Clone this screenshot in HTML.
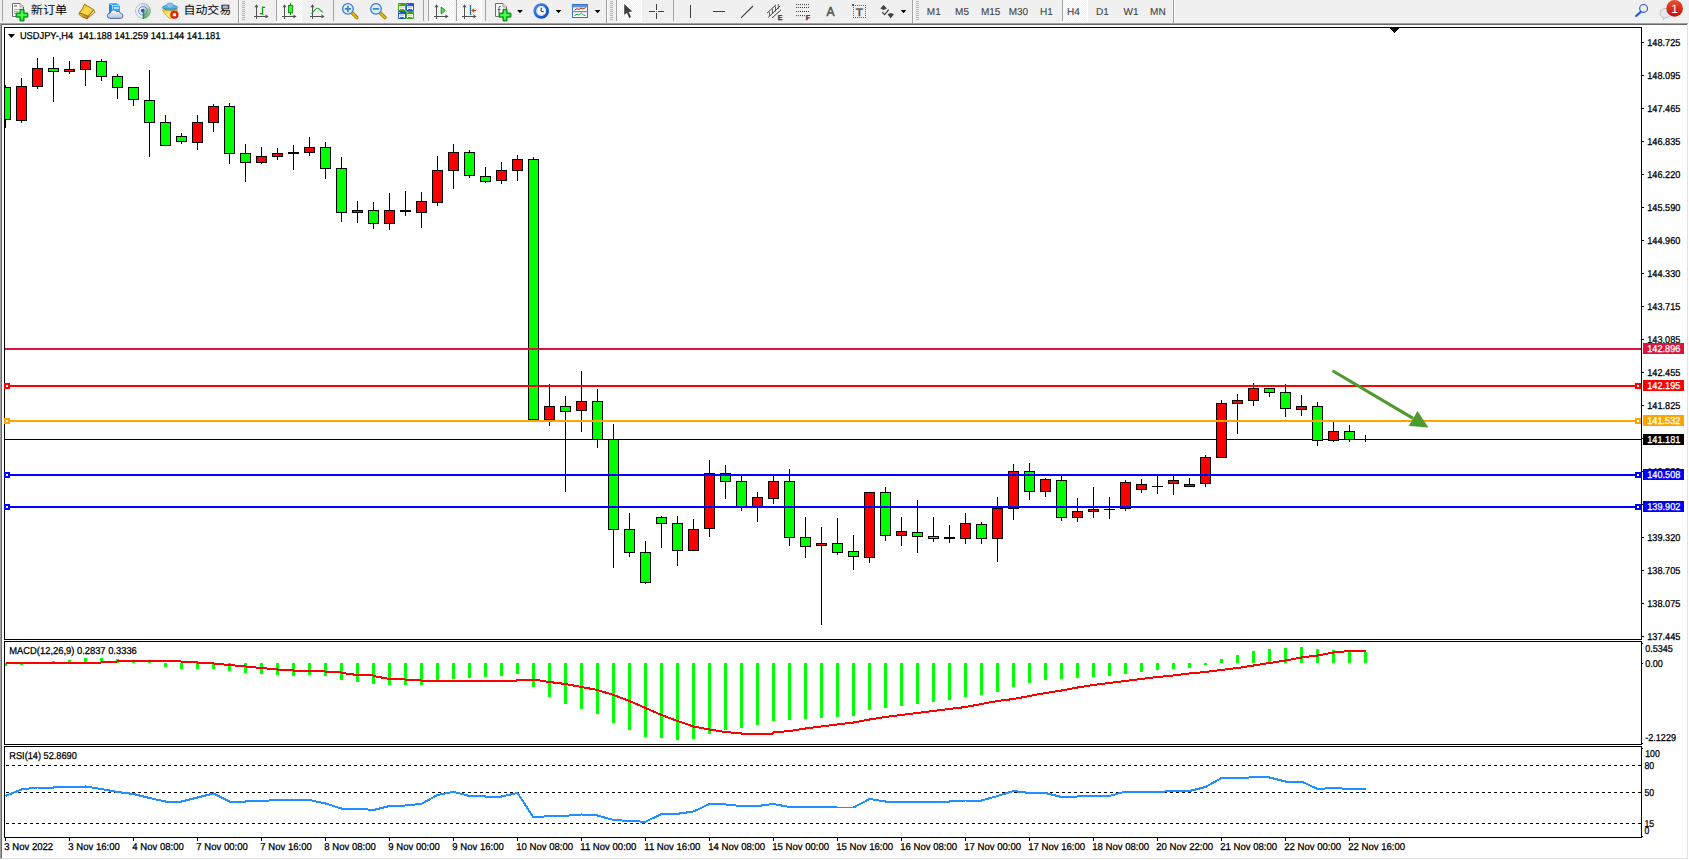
<!DOCTYPE html>
<html lang="zh"><head><meta charset="utf-8"><title>USDJPY H4</title>
<style>html,body{margin:0;padding:0;background:#fff;overflow:hidden}svg{display:block}text{font-family:"Liberation Sans","Noto Sans CJK SC",sans-serif;text-rendering:geometricPrecision}</style>
</head><body>
<svg width="1689" height="860" viewBox="0 0 1689 860">
<defs><pattern id="chk" width="2" height="2" patternUnits="userSpaceOnUse"><rect width="2" height="2" fill="#f0f0f0"/><rect width="1" height="1" fill="#fff"/><rect x="1" y="1" width="1" height="1" fill="#fff"/></pattern></defs>
<rect x="0" y="0" width="1689" height="860" fill="#fff"/>
<rect x="0" y="0" width="1689" height="23" fill="#f0f0f0"/>
<g shape-rendering="crispEdges">
<rect x="0" y="23" width="1688" height="1" fill="#a0a0a0"/>
<rect x="0" y="23" width="1" height="836" fill="#a0a0a0"/>
<rect x="1" y="24" width="1686" height="1" fill="#696969"/>
<rect x="1" y="24" width="1" height="834" fill="#696969"/>
<rect x="1687" y="24" width="1" height="835" fill="#e3e3e3"/>
<rect x="1" y="858" width="1687" height="1" fill="#e3e3e3"/>
<rect x="4" y="27" width="1638" height="1" fill="#000"/>
<rect x="4" y="27" width="1" height="613" fill="#000"/>
<rect x="4" y="641" width="1" height="104" fill="#000"/>
<rect x="4" y="746" width="1" height="92" fill="#000"/>
<rect x="1641" y="27" width="1" height="613" fill="#000"/>
<rect x="1641" y="641" width="1" height="104" fill="#000"/>
<rect x="1641" y="746" width="1" height="92" fill="#000"/>
<rect x="4" y="639" width="1638" height="1" fill="#000"/>
<rect x="4" y="641" width="1638" height="1" fill="#000"/>
<rect x="4" y="744" width="1638" height="1" fill="#000"/>
<rect x="4" y="746" width="1638" height="1" fill="#000"/>
<rect x="4" y="837" width="1638" height="1" fill="#000"/>
</g>
<g shape-rendering="crispEdges">
<clipPath id="cm"><rect x="5" y="28" width="1636" height="611"/></clipPath>
<rect x="5" y="439" width="1637" height="1" fill="#000"/>
<g clip-path="url(#cm)">
<rect x="5" y="85" width="1" height="43" fill="#000"/>
<rect x="0" y="87" width="11" height="33" fill="#000"/>
<rect x="1" y="88" width="9" height="31" fill="#00ff00"/>
<rect x="21" y="78" width="1" height="45" fill="#000"/>
<rect x="16" y="86" width="11" height="35" fill="#000"/>
<rect x="17" y="87" width="9" height="33" fill="#ff0000"/>
<rect x="37" y="58" width="1" height="31" fill="#000"/>
<rect x="32" y="68" width="11" height="19" fill="#000"/>
<rect x="33" y="69" width="9" height="17" fill="#ff0000"/>
<rect x="53" y="57" width="1" height="45" fill="#000"/>
<rect x="48" y="68" width="11" height="4" fill="#000"/>
<rect x="49" y="69" width="9" height="2" fill="#00ff00"/>
<rect x="69" y="61" width="1" height="13" fill="#000"/>
<rect x="64" y="69" width="11" height="3" fill="#000"/>
<rect x="65" y="70" width="9" height="1" fill="#ff0000"/>
<rect x="85" y="60" width="1" height="26" fill="#000"/>
<rect x="80" y="60" width="11" height="10" fill="#000"/>
<rect x="81" y="61" width="9" height="8" fill="#ff0000"/>
<rect x="101" y="59" width="1" height="22" fill="#000"/>
<rect x="96" y="61" width="11" height="16" fill="#000"/>
<rect x="97" y="62" width="9" height="14" fill="#00ff00"/>
<rect x="117" y="74" width="1" height="25" fill="#000"/>
<rect x="112" y="76" width="11" height="12" fill="#000"/>
<rect x="113" y="77" width="9" height="10" fill="#00ff00"/>
<rect x="133" y="87" width="1" height="19" fill="#000"/>
<rect x="128" y="87" width="11" height="13" fill="#000"/>
<rect x="129" y="88" width="9" height="11" fill="#00ff00"/>
<rect x="149" y="70" width="1" height="87" fill="#000"/>
<rect x="144" y="100" width="11" height="23" fill="#000"/>
<rect x="145" y="101" width="9" height="21" fill="#00ff00"/>
<rect x="165" y="115" width="1" height="31" fill="#000"/>
<rect x="160" y="122" width="11" height="24" fill="#000"/>
<rect x="161" y="123" width="9" height="22" fill="#00ff00"/>
<rect x="181" y="133" width="1" height="11" fill="#000"/>
<rect x="176" y="136" width="11" height="6" fill="#000"/>
<rect x="177" y="137" width="9" height="4" fill="#00ff00"/>
<rect x="197" y="115" width="1" height="35" fill="#000"/>
<rect x="192" y="122" width="11" height="21" fill="#000"/>
<rect x="193" y="123" width="9" height="19" fill="#ff0000"/>
<rect x="213" y="104" width="1" height="28" fill="#000"/>
<rect x="208" y="106" width="11" height="17" fill="#000"/>
<rect x="209" y="107" width="9" height="15" fill="#ff0000"/>
<rect x="229" y="103" width="1" height="61" fill="#000"/>
<rect x="224" y="106" width="11" height="48" fill="#000"/>
<rect x="225" y="107" width="9" height="46" fill="#00ff00"/>
<rect x="245" y="144" width="1" height="38" fill="#000"/>
<rect x="240" y="153" width="11" height="10" fill="#000"/>
<rect x="241" y="154" width="9" height="8" fill="#00ff00"/>
<rect x="261" y="147" width="1" height="17" fill="#000"/>
<rect x="256" y="156" width="11" height="7" fill="#000"/>
<rect x="257" y="157" width="9" height="5" fill="#ff0000"/>
<rect x="277" y="148" width="1" height="12" fill="#000"/>
<rect x="272" y="153" width="11" height="4" fill="#000"/>
<rect x="273" y="154" width="9" height="2" fill="#ff0000"/>
<rect x="293" y="145" width="1" height="25" fill="#000"/>
<rect x="288" y="152" width="11" height="2" fill="#000"/>
<rect x="309" y="137" width="1" height="19" fill="#000"/>
<rect x="304" y="147" width="11" height="6" fill="#000"/>
<rect x="305" y="148" width="9" height="4" fill="#ff0000"/>
<rect x="325" y="142" width="1" height="37" fill="#000"/>
<rect x="320" y="147" width="11" height="22" fill="#000"/>
<rect x="321" y="148" width="9" height="20" fill="#00ff00"/>
<rect x="341" y="157" width="1" height="65" fill="#000"/>
<rect x="336" y="168" width="11" height="45" fill="#000"/>
<rect x="337" y="169" width="9" height="43" fill="#00ff00"/>
<rect x="357" y="201" width="1" height="22" fill="#000"/>
<rect x="352" y="210" width="11" height="3" fill="#000"/>
<rect x="353" y="211" width="9" height="1" fill="#ff0000"/>
<rect x="373" y="202" width="1" height="27" fill="#000"/>
<rect x="368" y="210" width="11" height="14" fill="#000"/>
<rect x="369" y="211" width="9" height="12" fill="#00ff00"/>
<rect x="389" y="193" width="1" height="37" fill="#000"/>
<rect x="384" y="210" width="11" height="14" fill="#000"/>
<rect x="385" y="211" width="9" height="12" fill="#ff0000"/>
<rect x="405" y="191" width="1" height="25" fill="#000"/>
<rect x="400" y="210" width="11" height="2" fill="#000"/>
<rect x="421" y="192" width="1" height="36" fill="#000"/>
<rect x="416" y="201" width="11" height="12" fill="#000"/>
<rect x="417" y="202" width="9" height="10" fill="#ff0000"/>
<rect x="437" y="156" width="1" height="50" fill="#000"/>
<rect x="432" y="170" width="11" height="33" fill="#000"/>
<rect x="433" y="171" width="9" height="31" fill="#ff0000"/>
<rect x="453" y="144" width="1" height="45" fill="#000"/>
<rect x="448" y="152" width="11" height="19" fill="#000"/>
<rect x="449" y="153" width="9" height="17" fill="#ff0000"/>
<rect x="469" y="150" width="1" height="28" fill="#000"/>
<rect x="464" y="152" width="11" height="24" fill="#000"/>
<rect x="465" y="153" width="9" height="22" fill="#00ff00"/>
<rect x="485" y="167" width="1" height="16" fill="#000"/>
<rect x="480" y="176" width="11" height="6" fill="#000"/>
<rect x="481" y="177" width="9" height="4" fill="#00ff00"/>
<rect x="501" y="162" width="1" height="22" fill="#000"/>
<rect x="496" y="170" width="11" height="11" fill="#000"/>
<rect x="497" y="171" width="9" height="9" fill="#ff0000"/>
<rect x="517" y="155" width="1" height="26" fill="#000"/>
<rect x="512" y="159" width="11" height="12" fill="#000"/>
<rect x="513" y="160" width="9" height="10" fill="#ff0000"/>
<rect x="533" y="157" width="1" height="263" fill="#000"/>
<rect x="528" y="159" width="11" height="261" fill="#000"/>
<rect x="529" y="160" width="9" height="259" fill="#00ff00"/>
<rect x="549" y="384" width="1" height="42" fill="#000"/>
<rect x="544" y="406" width="11" height="14" fill="#000"/>
<rect x="545" y="407" width="9" height="12" fill="#ff0000"/>
<rect x="565" y="396" width="1" height="96" fill="#000"/>
<rect x="560" y="406" width="11" height="6" fill="#000"/>
<rect x="561" y="407" width="9" height="4" fill="#00ff00"/>
<rect x="581" y="371" width="1" height="61" fill="#000"/>
<rect x="576" y="401" width="11" height="10" fill="#000"/>
<rect x="577" y="402" width="9" height="8" fill="#ff0000"/>
<rect x="597" y="389" width="1" height="59" fill="#000"/>
<rect x="592" y="401" width="11" height="39" fill="#000"/>
<rect x="593" y="402" width="9" height="37" fill="#00ff00"/>
<rect x="613" y="424" width="1" height="144" fill="#000"/>
<rect x="608" y="439" width="11" height="91" fill="#000"/>
<rect x="609" y="440" width="9" height="89" fill="#00ff00"/>
<rect x="629" y="513" width="1" height="44" fill="#000"/>
<rect x="624" y="529" width="11" height="24" fill="#000"/>
<rect x="625" y="530" width="9" height="22" fill="#00ff00"/>
<rect x="645" y="541" width="1" height="43" fill="#000"/>
<rect x="640" y="552" width="11" height="31" fill="#000"/>
<rect x="641" y="553" width="9" height="29" fill="#00ff00"/>
<rect x="661" y="516" width="1" height="32" fill="#000"/>
<rect x="656" y="517" width="11" height="7" fill="#000"/>
<rect x="657" y="518" width="9" height="5" fill="#00ff00"/>
<rect x="677" y="516" width="1" height="50" fill="#000"/>
<rect x="672" y="523" width="11" height="28" fill="#000"/>
<rect x="673" y="524" width="9" height="26" fill="#00ff00"/>
<rect x="693" y="519" width="1" height="32" fill="#000"/>
<rect x="688" y="529" width="11" height="22" fill="#000"/>
<rect x="689" y="530" width="9" height="20" fill="#ff0000"/>
<rect x="709" y="460" width="1" height="77" fill="#000"/>
<rect x="704" y="473" width="11" height="56" fill="#000"/>
<rect x="705" y="474" width="9" height="54" fill="#ff0000"/>
<rect x="725" y="465" width="1" height="34" fill="#000"/>
<rect x="720" y="473" width="11" height="9" fill="#000"/>
<rect x="721" y="474" width="9" height="7" fill="#00ff00"/>
<rect x="741" y="474" width="1" height="37" fill="#000"/>
<rect x="736" y="481" width="11" height="27" fill="#000"/>
<rect x="737" y="482" width="9" height="25" fill="#00ff00"/>
<rect x="757" y="492" width="1" height="30" fill="#000"/>
<rect x="752" y="497" width="11" height="11" fill="#000"/>
<rect x="753" y="498" width="9" height="9" fill="#ff0000"/>
<rect x="773" y="474" width="1" height="30" fill="#000"/>
<rect x="768" y="481" width="11" height="18" fill="#000"/>
<rect x="769" y="482" width="9" height="16" fill="#ff0000"/>
<rect x="789" y="469" width="1" height="77" fill="#000"/>
<rect x="784" y="481" width="11" height="57" fill="#000"/>
<rect x="785" y="482" width="9" height="55" fill="#00ff00"/>
<rect x="805" y="517" width="1" height="41" fill="#000"/>
<rect x="800" y="537" width="11" height="10" fill="#000"/>
<rect x="801" y="538" width="9" height="8" fill="#00ff00"/>
<rect x="821" y="527" width="1" height="98" fill="#000"/>
<rect x="816" y="543" width="11" height="3" fill="#000"/>
<rect x="817" y="544" width="9" height="1" fill="#ff0000"/>
<rect x="837" y="518" width="1" height="37" fill="#000"/>
<rect x="832" y="543" width="11" height="10" fill="#000"/>
<rect x="833" y="544" width="9" height="8" fill="#00ff00"/>
<rect x="853" y="535" width="1" height="35" fill="#000"/>
<rect x="848" y="551" width="11" height="6" fill="#000"/>
<rect x="849" y="552" width="9" height="4" fill="#00ff00"/>
<rect x="869" y="492" width="1" height="71" fill="#000"/>
<rect x="864" y="492" width="11" height="66" fill="#000"/>
<rect x="865" y="493" width="9" height="64" fill="#ff0000"/>
<rect x="885" y="487" width="1" height="54" fill="#000"/>
<rect x="880" y="492" width="11" height="44" fill="#000"/>
<rect x="881" y="493" width="9" height="42" fill="#00ff00"/>
<rect x="901" y="517" width="1" height="29" fill="#000"/>
<rect x="896" y="531" width="11" height="5" fill="#000"/>
<rect x="897" y="532" width="9" height="3" fill="#ff0000"/>
<rect x="917" y="500" width="1" height="53" fill="#000"/>
<rect x="912" y="532" width="11" height="5" fill="#000"/>
<rect x="913" y="533" width="9" height="3" fill="#00ff00"/>
<rect x="933" y="517" width="1" height="25" fill="#000"/>
<rect x="928" y="536" width="11" height="3" fill="#000"/>
<rect x="929" y="537" width="9" height="1" fill="#00ff00"/>
<rect x="949" y="525" width="1" height="18" fill="#000"/>
<rect x="944" y="537" width="11" height="2" fill="#000"/>
<rect x="965" y="513" width="1" height="31" fill="#000"/>
<rect x="960" y="523" width="11" height="16" fill="#000"/>
<rect x="961" y="524" width="9" height="14" fill="#ff0000"/>
<rect x="981" y="522" width="1" height="22" fill="#000"/>
<rect x="976" y="524" width="11" height="15" fill="#000"/>
<rect x="977" y="525" width="9" height="13" fill="#00ff00"/>
<rect x="997" y="497" width="1" height="65" fill="#000"/>
<rect x="992" y="508" width="11" height="31" fill="#000"/>
<rect x="993" y="509" width="9" height="29" fill="#ff0000"/>
<rect x="1013" y="464" width="1" height="56" fill="#000"/>
<rect x="1008" y="471" width="11" height="38" fill="#000"/>
<rect x="1009" y="472" width="9" height="36" fill="#ff0000"/>
<rect x="1029" y="463" width="1" height="37" fill="#000"/>
<rect x="1024" y="471" width="11" height="21" fill="#000"/>
<rect x="1025" y="472" width="9" height="19" fill="#00ff00"/>
<rect x="1045" y="478" width="1" height="19" fill="#000"/>
<rect x="1040" y="479" width="11" height="13" fill="#000"/>
<rect x="1041" y="480" width="9" height="11" fill="#ff0000"/>
<rect x="1061" y="474" width="1" height="47" fill="#000"/>
<rect x="1056" y="480" width="11" height="38" fill="#000"/>
<rect x="1057" y="481" width="9" height="36" fill="#00ff00"/>
<rect x="1077" y="498" width="1" height="24" fill="#000"/>
<rect x="1072" y="511" width="11" height="7" fill="#000"/>
<rect x="1073" y="512" width="9" height="5" fill="#ff0000"/>
<rect x="1093" y="487" width="1" height="31" fill="#000"/>
<rect x="1088" y="509" width="11" height="3" fill="#000"/>
<rect x="1089" y="510" width="9" height="1" fill="#ff0000"/>
<rect x="1109" y="497" width="1" height="22" fill="#000"/>
<rect x="1104" y="509" width="11" height="1" fill="#000"/>
<rect x="1125" y="480" width="1" height="31" fill="#000"/>
<rect x="1120" y="482" width="11" height="27" fill="#000"/>
<rect x="1121" y="483" width="9" height="25" fill="#ff0000"/>
<rect x="1141" y="479" width="1" height="14" fill="#000"/>
<rect x="1136" y="484" width="11" height="6" fill="#000"/>
<rect x="1137" y="485" width="9" height="4" fill="#ff0000"/>
<rect x="1157" y="474" width="1" height="20" fill="#000"/>
<rect x="1152" y="486" width="11" height="1" fill="#000"/>
<rect x="1173" y="474" width="1" height="21" fill="#000"/>
<rect x="1168" y="480" width="11" height="4" fill="#000"/>
<rect x="1169" y="481" width="9" height="2" fill="#ff0000"/>
<rect x="1189" y="478" width="1" height="9" fill="#000"/>
<rect x="1184" y="484" width="11" height="3" fill="#000"/>
<rect x="1185" y="485" width="9" height="1" fill="#ff0000"/>
<rect x="1205" y="455" width="1" height="32" fill="#000"/>
<rect x="1200" y="457" width="11" height="27" fill="#000"/>
<rect x="1201" y="458" width="9" height="25" fill="#ff0000"/>
<rect x="1221" y="400" width="1" height="58" fill="#000"/>
<rect x="1216" y="403" width="11" height="55" fill="#000"/>
<rect x="1217" y="404" width="9" height="53" fill="#ff0000"/>
<rect x="1237" y="394" width="1" height="40" fill="#000"/>
<rect x="1232" y="400" width="11" height="4" fill="#000"/>
<rect x="1233" y="401" width="9" height="2" fill="#ff0000"/>
<rect x="1253" y="383" width="1" height="23" fill="#000"/>
<rect x="1248" y="388" width="11" height="13" fill="#000"/>
<rect x="1249" y="389" width="9" height="11" fill="#ff0000"/>
<rect x="1269" y="388" width="1" height="9" fill="#000"/>
<rect x="1264" y="388" width="11" height="5" fill="#000"/>
<rect x="1265" y="389" width="9" height="3" fill="#00ff00"/>
<rect x="1285" y="384" width="1" height="33" fill="#000"/>
<rect x="1280" y="392" width="11" height="17" fill="#000"/>
<rect x="1281" y="393" width="9" height="15" fill="#00ff00"/>
<rect x="1301" y="395" width="1" height="21" fill="#000"/>
<rect x="1296" y="406" width="11" height="4" fill="#000"/>
<rect x="1297" y="407" width="9" height="2" fill="#ff0000"/>
<rect x="1317" y="402" width="1" height="44" fill="#000"/>
<rect x="1312" y="406" width="11" height="35" fill="#000"/>
<rect x="1313" y="407" width="9" height="33" fill="#00ff00"/>
<rect x="1333" y="422" width="1" height="20" fill="#000"/>
<rect x="1328" y="431" width="11" height="10" fill="#000"/>
<rect x="1329" y="432" width="9" height="8" fill="#ff0000"/>
<rect x="1349" y="425" width="1" height="17" fill="#000"/>
<rect x="1344" y="431" width="11" height="9" fill="#000"/>
<rect x="1345" y="432" width="9" height="7" fill="#00ff00"/>
<rect x="1365" y="435" width="1" height="7" fill="#000"/>
<rect x="1360" y="439" width="11" height="1" fill="#000"/>
</g>
<rect x="5" y="348" width="1636" height="2" fill="#dc143c"/>
<rect x="5" y="385" width="1636" height="2" fill="#ff0000"/>
<rect x="4" y="383" width="6" height="6" fill="#ff0000"/>
<rect x="6" y="385" width="2" height="2" fill="#fff"/>
<rect x="1635" y="383" width="6" height="6" fill="#ff0000"/>
<rect x="1637" y="385" width="2" height="2" fill="#fff"/>
<rect x="5" y="420" width="1636" height="2" fill="#ffa500"/>
<rect x="4" y="418" width="6" height="6" fill="#ffa500"/>
<rect x="6" y="420" width="2" height="2" fill="#fff"/>
<rect x="1635" y="418" width="6" height="6" fill="#ffa500"/>
<rect x="1637" y="420" width="2" height="2" fill="#fff"/>
<rect x="5" y="474" width="1636" height="2" fill="#0000ff"/>
<rect x="4" y="472" width="6" height="6" fill="#0000ff"/>
<rect x="6" y="474" width="2" height="2" fill="#fff"/>
<rect x="1635" y="472" width="6" height="6" fill="#0000ff"/>
<rect x="1637" y="474" width="2" height="2" fill="#fff"/>
<rect x="5" y="506" width="1636" height="2" fill="#0000ff"/>
<rect x="4" y="504" width="6" height="6" fill="#0000ff"/>
<rect x="6" y="506" width="2" height="2" fill="#fff"/>
<rect x="1635" y="504" width="6" height="6" fill="#0000ff"/>
<rect x="1637" y="506" width="2" height="2" fill="#fff"/>
<path d="M1390 28h9v1h-1v1h-1v1h-1v1h-1v1h-1v-1h-1v-1h-1v-1h-1v-1h-1z" fill="#000"/>
</g>
<g fill="#4e9a2e" stroke="none"><path d="M1331.8 372 L1333.4 369.4 L1413.9 417.1 L1412.3 419.7 Z"/><path d="M1417.5 411 L1408.8 425.9 L1428.4 427.4 Z"/></g>
<g shape-rendering="crispEdges">
<rect x="1642" y="42" width="2" height="1" fill="#000"/>
<rect x="1642" y="75" width="2" height="1" fill="#000"/>
<rect x="1642" y="108" width="2" height="1" fill="#000"/>
<rect x="1642" y="141" width="2" height="1" fill="#000"/>
<rect x="1642" y="174" width="2" height="1" fill="#000"/>
<rect x="1642" y="207" width="2" height="1" fill="#000"/>
<rect x="1642" y="240" width="2" height="1" fill="#000"/>
<rect x="1642" y="273" width="2" height="1" fill="#000"/>
<rect x="1642" y="306" width="2" height="1" fill="#000"/>
<rect x="1642" y="339" width="2" height="1" fill="#000"/>
<rect x="1642" y="372" width="2" height="1" fill="#000"/>
<rect x="1642" y="405" width="2" height="1" fill="#000"/>
<rect x="1642" y="438" width="2" height="1" fill="#000"/>
<rect x="1642" y="471" width="2" height="1" fill="#000"/>
<rect x="1642" y="504" width="2" height="1" fill="#000"/>
<rect x="1642" y="537" width="2" height="1" fill="#000"/>
<rect x="1642" y="570" width="2" height="1" fill="#000"/>
<rect x="1642" y="603" width="2" height="1" fill="#000"/>
<rect x="1642" y="636" width="2" height="1" fill="#000"/>
</g>
<text x="1647.3" y="46" font-size="10" fill="#000" stroke="#000" stroke-width="0.28" textLength="33" lengthAdjust="spacingAndGlyphs" xml:space="preserve">148.725</text>
<text x="1647.3" y="79" font-size="10" fill="#000" stroke="#000" stroke-width="0.28" textLength="33" lengthAdjust="spacingAndGlyphs" xml:space="preserve">148.095</text>
<text x="1647.3" y="112" font-size="10" fill="#000" stroke="#000" stroke-width="0.28" textLength="33" lengthAdjust="spacingAndGlyphs" xml:space="preserve">147.465</text>
<text x="1647.3" y="145" font-size="10" fill="#000" stroke="#000" stroke-width="0.28" textLength="33" lengthAdjust="spacingAndGlyphs" xml:space="preserve">146.835</text>
<text x="1647.3" y="178" font-size="10" fill="#000" stroke="#000" stroke-width="0.28" textLength="33" lengthAdjust="spacingAndGlyphs" xml:space="preserve">146.220</text>
<text x="1647.3" y="211" font-size="10" fill="#000" stroke="#000" stroke-width="0.28" textLength="33" lengthAdjust="spacingAndGlyphs" xml:space="preserve">145.590</text>
<text x="1647.3" y="244" font-size="10" fill="#000" stroke="#000" stroke-width="0.28" textLength="33" lengthAdjust="spacingAndGlyphs" xml:space="preserve">144.960</text>
<text x="1647.3" y="277" font-size="10" fill="#000" stroke="#000" stroke-width="0.28" textLength="33" lengthAdjust="spacingAndGlyphs" xml:space="preserve">144.330</text>
<text x="1647.3" y="310" font-size="10" fill="#000" stroke="#000" stroke-width="0.28" textLength="33" lengthAdjust="spacingAndGlyphs" xml:space="preserve">143.715</text>
<text x="1647.3" y="343" font-size="10" fill="#000" stroke="#000" stroke-width="0.28" textLength="33" lengthAdjust="spacingAndGlyphs" xml:space="preserve">143.085</text>
<text x="1647.3" y="376" font-size="10" fill="#000" stroke="#000" stroke-width="0.28" textLength="33" lengthAdjust="spacingAndGlyphs" xml:space="preserve">142.455</text>
<text x="1647.3" y="409" font-size="10" fill="#000" stroke="#000" stroke-width="0.28" textLength="33" lengthAdjust="spacingAndGlyphs" xml:space="preserve">141.825</text>
<text x="1647.3" y="442" font-size="10" fill="#000" stroke="#000" stroke-width="0.28" textLength="33" lengthAdjust="spacingAndGlyphs" xml:space="preserve">141.195</text>
<text x="1647.3" y="475" font-size="10" fill="#000" stroke="#000" stroke-width="0.28" textLength="33" lengthAdjust="spacingAndGlyphs" xml:space="preserve">140.580</text>
<text x="1647.3" y="508" font-size="10" fill="#000" stroke="#000" stroke-width="0.28" textLength="33" lengthAdjust="spacingAndGlyphs" xml:space="preserve">139.950</text>
<text x="1647.3" y="541" font-size="10" fill="#000" stroke="#000" stroke-width="0.28" textLength="33" lengthAdjust="spacingAndGlyphs" xml:space="preserve">139.320</text>
<text x="1647.3" y="574" font-size="10" fill="#000" stroke="#000" stroke-width="0.28" textLength="33" lengthAdjust="spacingAndGlyphs" xml:space="preserve">138.705</text>
<text x="1647.3" y="607" font-size="10" fill="#000" stroke="#000" stroke-width="0.28" textLength="33" lengthAdjust="spacingAndGlyphs" xml:space="preserve">138.075</text>
<text x="1647.3" y="640" font-size="10" fill="#000" stroke="#000" stroke-width="0.28" textLength="33" lengthAdjust="spacingAndGlyphs" xml:space="preserve">137.445</text>
<g shape-rendering="crispEdges">
<rect x="1643" y="343" width="41" height="11" fill="#dc143c"/>
<rect x="1643" y="380" width="41" height="11" fill="#ff0000"/>
<rect x="1643" y="415" width="41" height="11" fill="#ffa500"/>
<rect x="1643" y="434" width="41" height="11" fill="#000000"/>
<rect x="1643" y="469" width="41" height="11" fill="#0000ff"/>
<rect x="1643" y="501" width="41" height="11" fill="#0000ff"/>
</g>
<text x="1647.3" y="352" font-size="10" fill="#fff" stroke="#fff" stroke-width="0.28" textLength="33" lengthAdjust="spacingAndGlyphs" xml:space="preserve">142.896</text>
<text x="1647.3" y="389" font-size="10" fill="#fff" stroke="#fff" stroke-width="0.28" textLength="33" lengthAdjust="spacingAndGlyphs" xml:space="preserve">142.195</text>
<text x="1647.3" y="424" font-size="10" fill="#fff" stroke="#fff" stroke-width="0.28" textLength="33" lengthAdjust="spacingAndGlyphs" xml:space="preserve">141.532</text>
<text x="1647.3" y="443" font-size="10" fill="#fff" stroke="#fff" stroke-width="0.28" textLength="33" lengthAdjust="spacingAndGlyphs" xml:space="preserve">141.181</text>
<text x="1647.3" y="478" font-size="10" fill="#fff" stroke="#fff" stroke-width="0.28" textLength="33" lengthAdjust="spacingAndGlyphs" xml:space="preserve">140.508</text>
<text x="1647.3" y="510" font-size="10" fill="#fff" stroke="#fff" stroke-width="0.28" textLength="33" lengthAdjust="spacingAndGlyphs" xml:space="preserve">139.902</text>
<path d="M8 34h7l-3.5 4z" fill="#000"/>
<text x="19.9" y="39" font-size="10" fill="#000" stroke="#000" stroke-width="0.28" textLength="200.5" lengthAdjust="spacingAndGlyphs" xml:space="preserve">USDJPY-,H4  141.188 141.259 141.144 141.181</text>
<g shape-rendering="crispEdges">
<rect x="5" y="663" width="2" height="3" fill="#00ff00"/>
<rect x="20" y="663" width="3" height="2" fill="#00ff00"/>
<rect x="36" y="663" width="3" height="1" fill="#00ff00"/>
<rect x="52" y="661" width="3" height="2" fill="#00ff00"/>
<rect x="68" y="660" width="3" height="3" fill="#00ff00"/>
<rect x="84" y="658" width="3" height="5" fill="#00ff00"/>
<rect x="100" y="658" width="3" height="5" fill="#00ff00"/>
<rect x="116" y="659" width="3" height="4" fill="#00ff00"/>
<rect x="132" y="662" width="3" height="1" fill="#00ff00"/>
<rect x="148" y="662" width="3" height="1" fill="#00ff00"/>
<rect x="164" y="663" width="3" height="4" fill="#00ff00"/>
<rect x="180" y="663" width="3" height="6" fill="#00ff00"/>
<rect x="196" y="663" width="3" height="6" fill="#00ff00"/>
<rect x="212" y="663" width="3" height="6" fill="#00ff00"/>
<rect x="228" y="663" width="3" height="8" fill="#00ff00"/>
<rect x="244" y="663" width="3" height="10" fill="#00ff00"/>
<rect x="260" y="663" width="3" height="11" fill="#00ff00"/>
<rect x="276" y="663" width="3" height="12" fill="#00ff00"/>
<rect x="292" y="663" width="3" height="13" fill="#00ff00"/>
<rect x="308" y="663" width="3" height="12" fill="#00ff00"/>
<rect x="324" y="663" width="3" height="13" fill="#00ff00"/>
<rect x="340" y="663" width="3" height="17" fill="#00ff00"/>
<rect x="356" y="663" width="3" height="19" fill="#00ff00"/>
<rect x="372" y="663" width="3" height="21" fill="#00ff00"/>
<rect x="388" y="663" width="3" height="22" fill="#00ff00"/>
<rect x="404" y="663" width="3" height="22" fill="#00ff00"/>
<rect x="420" y="663" width="3" height="22" fill="#00ff00"/>
<rect x="436" y="663" width="3" height="18" fill="#00ff00"/>
<rect x="452" y="663" width="3" height="16" fill="#00ff00"/>
<rect x="468" y="663" width="3" height="15" fill="#00ff00"/>
<rect x="484" y="663" width="3" height="14" fill="#00ff00"/>
<rect x="500" y="663" width="3" height="13" fill="#00ff00"/>
<rect x="516" y="663" width="3" height="11" fill="#00ff00"/>
<rect x="532" y="663" width="3" height="24" fill="#00ff00"/>
<rect x="548" y="663" width="3" height="34" fill="#00ff00"/>
<rect x="564" y="663" width="3" height="41" fill="#00ff00"/>
<rect x="580" y="663" width="3" height="46" fill="#00ff00"/>
<rect x="596" y="663" width="3" height="51" fill="#00ff00"/>
<rect x="612" y="663" width="3" height="60" fill="#00ff00"/>
<rect x="628" y="663" width="3" height="67" fill="#00ff00"/>
<rect x="644" y="663" width="3" height="74" fill="#00ff00"/>
<rect x="660" y="663" width="3" height="75" fill="#00ff00"/>
<rect x="676" y="663" width="3" height="77" fill="#00ff00"/>
<rect x="692" y="663" width="3" height="76" fill="#00ff00"/>
<rect x="708" y="663" width="3" height="71" fill="#00ff00"/>
<rect x="724" y="663" width="3" height="67" fill="#00ff00"/>
<rect x="740" y="663" width="3" height="65" fill="#00ff00"/>
<rect x="756" y="663" width="3" height="62" fill="#00ff00"/>
<rect x="772" y="663" width="3" height="58" fill="#00ff00"/>
<rect x="788" y="663" width="3" height="57" fill="#00ff00"/>
<rect x="804" y="663" width="3" height="56" fill="#00ff00"/>
<rect x="820" y="663" width="3" height="55" fill="#00ff00"/>
<rect x="836" y="663" width="3" height="54" fill="#00ff00"/>
<rect x="852" y="663" width="3" height="53" fill="#00ff00"/>
<rect x="868" y="663" width="3" height="47" fill="#00ff00"/>
<rect x="884" y="663" width="3" height="45" fill="#00ff00"/>
<rect x="900" y="663" width="3" height="43" fill="#00ff00"/>
<rect x="916" y="663" width="3" height="41" fill="#00ff00"/>
<rect x="932" y="663" width="3" height="39" fill="#00ff00"/>
<rect x="948" y="663" width="3" height="37" fill="#00ff00"/>
<rect x="964" y="663" width="3" height="34" fill="#00ff00"/>
<rect x="980" y="663" width="3" height="32" fill="#00ff00"/>
<rect x="996" y="663" width="3" height="29" fill="#00ff00"/>
<rect x="1012" y="663" width="3" height="24" fill="#00ff00"/>
<rect x="1028" y="663" width="3" height="20" fill="#00ff00"/>
<rect x="1044" y="663" width="3" height="17" fill="#00ff00"/>
<rect x="1060" y="663" width="3" height="16" fill="#00ff00"/>
<rect x="1076" y="663" width="3" height="15" fill="#00ff00"/>
<rect x="1092" y="663" width="3" height="14" fill="#00ff00"/>
<rect x="1108" y="663" width="3" height="13" fill="#00ff00"/>
<rect x="1124" y="663" width="3" height="11" fill="#00ff00"/>
<rect x="1140" y="663" width="3" height="9" fill="#00ff00"/>
<rect x="1156" y="663" width="3" height="7" fill="#00ff00"/>
<rect x="1172" y="663" width="3" height="6" fill="#00ff00"/>
<rect x="1188" y="663" width="3" height="5" fill="#00ff00"/>
<rect x="1204" y="663" width="3" height="2" fill="#00ff00"/>
<rect x="1220" y="659" width="3" height="4" fill="#00ff00"/>
<rect x="1236" y="655" width="3" height="8" fill="#00ff00"/>
<rect x="1252" y="651" width="3" height="12" fill="#00ff00"/>
<rect x="1268" y="649" width="3" height="14" fill="#00ff00"/>
<rect x="1284" y="648" width="3" height="15" fill="#00ff00"/>
<rect x="1300" y="647" width="3" height="16" fill="#00ff00"/>
<rect x="1316" y="649" width="3" height="14" fill="#00ff00"/>
<rect x="1332" y="650" width="3" height="13" fill="#00ff00"/>
<rect x="1348" y="651" width="3" height="12" fill="#00ff00"/>
<rect x="1364" y="652" width="3" height="11" fill="#00ff00"/>
<polyline points="5.5,663 21.5,663 37.5,663 53.5,663 69.5,663 85.5,663 100.5,663 101.5,662 116.5,662 117.5,661 133.5,661 149.5,661 165.5,661 180.5,661 181.5,662 196.5,662 197.5,662.5 212.5,662.5 213.5,663.5 229.5,665 245.5,666.5 261.5,668 277.5,669.5 292.5,669.5 293.5,670.5 308.5,670.5 309.5,671 324.5,671 325.5,672 340.5,672 341.5,673 357.5,675 372.5,675 373.5,676 389.5,679 404.5,679 405.5,680 420.5,680 421.5,681 437.5,681 453.5,681 469.5,681 485.5,681 500.5,681 501.5,680.5 516.5,680.5 517.5,679.5 533.5,679.5 549.5,682 565.5,684 581.5,687 597.5,690 613.5,695 629.5,701 645.5,708 661.5,715 677.5,721 693.5,726.5 709.5,729.5 725.5,732 741.5,733.5 757.5,733.5 772.5,733.5 773.5,732.5 789.5,731 805.5,728.5 821.5,726.5 837.5,724.5 853.5,722.5 869.5,719.5 885.5,717 901.5,715 917.5,713 933.5,711 949.5,709 965.5,707 981.5,704 997.5,701 1013.5,699 1029.5,696 1045.5,693 1061.5,690.5 1077.5,687.5 1093.5,685 1109.5,683 1125.5,681 1141.5,679 1157.5,677 1173.5,675.5 1189.5,673.5 1205.5,672 1221.5,670 1237.5,668 1253.5,665.5 1269.5,663 1285.5,660.5 1301.5,657.5 1317.5,655.5 1333.5,652.5 1349.5,651 1365.5,651" fill="none" stroke="#ff0000" stroke-width="2"/>
<rect x="1642" y="643" width="1" height="1" fill="#000"/>
<rect x="1642" y="663" width="1" height="1" fill="#000"/>
<rect x="1642" y="743" width="1" height="1" fill="#000"/>
</g>
<text x="9.3" y="654" font-size="10" fill="#000" stroke="#000" stroke-width="0.28" textLength="127.5" lengthAdjust="spacingAndGlyphs" xml:space="preserve">MACD(12,26,9) 0.2837 0.3336</text>
<text x="1645.2" y="652" font-size="10" fill="#000" stroke="#000" stroke-width="0.28" textLength="27.6" lengthAdjust="spacingAndGlyphs" xml:space="preserve">0.5345</text>
<text x="1645.2" y="667" font-size="10" fill="#000" stroke="#000" stroke-width="0.28" textLength="17.6" lengthAdjust="spacingAndGlyphs" xml:space="preserve">0.00</text>
<text x="1645.2" y="741" font-size="10" fill="#000" stroke="#000" stroke-width="0.28" textLength="30.8" lengthAdjust="spacingAndGlyphs" xml:space="preserve">-2.1229</text>
<g shape-rendering="crispEdges">
<line x1="6" x2="1641" y1="765.5" y2="765.5" stroke="#000" stroke-width="1" stroke-dasharray="3 3"/>
<line x1="6" x2="1641" y1="792.5" y2="792.5" stroke="#000" stroke-width="1" stroke-dasharray="3 3"/>
<line x1="6" x2="1641" y1="823.5" y2="823.5" stroke="#000" stroke-width="1" stroke-dasharray="3 3"/>
<rect x="1642" y="748" width="1" height="1" fill="#000"/>
<rect x="1642" y="836" width="1" height="1" fill="#000"/>
</g>
<polyline points="5.5,796 21.5,789.5 37.5,787.5 53.5,787.5 69.5,787 85.5,786.5 101.5,789 117.5,792 133.5,794 149.5,798 165.5,801.5 181.5,801.5 197.5,797.5 213.5,793.5 229.5,801.5 245.5,801.5 261.5,801 277.5,800 293.5,800 309.5,800 325.5,803.5 341.5,808.5 357.5,808.5 373.5,810 389.5,806 405.5,805.5 421.5,803.8 437.5,795 453.5,791.8 469.5,796 485.5,796.5 501.5,796.5 517.5,793 533.5,817.5 549.5,816 565.5,815.8 581.5,814.5 597.5,815.5 613.5,820 629.5,821 645.5,821.8 661.5,814 677.5,813.8 693.5,811.5 709.5,804 725.5,804.5 741.5,806 757.5,806 773.5,804 789.5,807 805.5,807 821.5,807.3 837.5,807.5 853.5,807.5 869.5,799 885.5,801.5 901.5,801.5 917.5,801.5 933.5,801.5 949.5,801.5 965.5,800.5 981.5,800.5 997.5,796 1013.5,791 1029.5,793 1045.5,793 1061.5,797 1077.5,796.5 1093.5,796 1109.5,796 1125.5,791.5 1141.5,791.5 1157.5,792 1173.5,791 1189.5,791 1205.5,787 1221.5,778 1237.5,778 1253.5,777.3 1269.5,777.5 1285.5,781.5 1301.5,781.5 1317.5,789 1333.5,788 1349.5,789 1365.5,789" fill="none" stroke="#1e90ff" stroke-width="2" shape-rendering="crispEdges"/>
<text x="9.3" y="759" font-size="10" fill="#000" stroke="#000" stroke-width="0.28" textLength="67.5" lengthAdjust="spacingAndGlyphs" xml:space="preserve">RSI(14) 52.8690</text>
<text x="1645.2" y="757" font-size="10" fill="#000" stroke="#000" stroke-width="0.28" textLength="14.6" lengthAdjust="spacingAndGlyphs" xml:space="preserve">100</text>
<text x="1644.4" y="769" font-size="10" fill="#000" stroke="#000" stroke-width="0.28" textLength="9.7" lengthAdjust="spacingAndGlyphs" xml:space="preserve">80</text>
<text x="1644.4" y="796" font-size="10" fill="#000" stroke="#000" stroke-width="0.28" textLength="9.7" lengthAdjust="spacingAndGlyphs" xml:space="preserve">50</text>
<text x="1644.4" y="827" font-size="10" fill="#000" stroke="#000" stroke-width="0.28" textLength="9.7" lengthAdjust="spacingAndGlyphs" xml:space="preserve">15</text>
<text x="1644.4" y="834" font-size="10" fill="#000" stroke="#000" stroke-width="0.28" textLength="4.8" lengthAdjust="spacingAndGlyphs" xml:space="preserve">0</text>
<g shape-rendering="crispEdges">
<rect x="5" y="838" width="1" height="3" fill="#000"/>
<rect x="69" y="838" width="1" height="3" fill="#000"/>
<rect x="133" y="838" width="1" height="3" fill="#000"/>
<rect x="197" y="838" width="1" height="3" fill="#000"/>
<rect x="261" y="838" width="1" height="3" fill="#000"/>
<rect x="325" y="838" width="1" height="3" fill="#000"/>
<rect x="389" y="838" width="1" height="3" fill="#000"/>
<rect x="453" y="838" width="1" height="3" fill="#000"/>
<rect x="517" y="838" width="1" height="3" fill="#000"/>
<rect x="581" y="838" width="1" height="3" fill="#000"/>
<rect x="645" y="838" width="1" height="3" fill="#000"/>
<rect x="709" y="838" width="1" height="3" fill="#000"/>
<rect x="773" y="838" width="1" height="3" fill="#000"/>
<rect x="837" y="838" width="1" height="3" fill="#000"/>
<rect x="901" y="838" width="1" height="3" fill="#000"/>
<rect x="965" y="838" width="1" height="3" fill="#000"/>
<rect x="1029" y="838" width="1" height="3" fill="#000"/>
<rect x="1093" y="838" width="1" height="3" fill="#000"/>
<rect x="1157" y="838" width="1" height="3" fill="#000"/>
<rect x="1221" y="838" width="1" height="3" fill="#000"/>
<rect x="1285" y="838" width="1" height="3" fill="#000"/>
<rect x="1349" y="838" width="1" height="3" fill="#000"/>
</g>
<text transform="translate(4.3 850) scale(0.955 1)" font-size="10" fill="#000" stroke="#000" stroke-width="0.28" xml:space="preserve">3 Nov 2022</text>
<text transform="translate(68.3 850) scale(0.955 1)" font-size="10" fill="#000" stroke="#000" stroke-width="0.28" xml:space="preserve">3 Nov 16:00</text>
<text transform="translate(132.3 850) scale(0.955 1)" font-size="10" fill="#000" stroke="#000" stroke-width="0.28" xml:space="preserve">4 Nov 08:00</text>
<text transform="translate(196.3 850) scale(0.955 1)" font-size="10" fill="#000" stroke="#000" stroke-width="0.28" xml:space="preserve">7 Nov 00:00</text>
<text transform="translate(260.3 850) scale(0.955 1)" font-size="10" fill="#000" stroke="#000" stroke-width="0.28" xml:space="preserve">7 Nov 16:00</text>
<text transform="translate(324.3 850) scale(0.955 1)" font-size="10" fill="#000" stroke="#000" stroke-width="0.28" xml:space="preserve">8 Nov 08:00</text>
<text transform="translate(388.3 850) scale(0.955 1)" font-size="10" fill="#000" stroke="#000" stroke-width="0.28" xml:space="preserve">9 Nov 00:00</text>
<text transform="translate(452.3 850) scale(0.955 1)" font-size="10" fill="#000" stroke="#000" stroke-width="0.28" xml:space="preserve">9 Nov 16:00</text>
<text transform="translate(516.3 850) scale(0.955 1)" font-size="10" fill="#000" stroke="#000" stroke-width="0.28" xml:space="preserve">10 Nov 08:00</text>
<text transform="translate(580.3 850) scale(0.955 1)" font-size="10" fill="#000" stroke="#000" stroke-width="0.28" xml:space="preserve">11 Nov 00:00</text>
<text transform="translate(644.3 850) scale(0.955 1)" font-size="10" fill="#000" stroke="#000" stroke-width="0.28" xml:space="preserve">11 Nov 16:00</text>
<text transform="translate(708.3 850) scale(0.955 1)" font-size="10" fill="#000" stroke="#000" stroke-width="0.28" xml:space="preserve">14 Nov 08:00</text>
<text transform="translate(772.3 850) scale(0.955 1)" font-size="10" fill="#000" stroke="#000" stroke-width="0.28" xml:space="preserve">15 Nov 00:00</text>
<text transform="translate(836.3 850) scale(0.955 1)" font-size="10" fill="#000" stroke="#000" stroke-width="0.28" xml:space="preserve">15 Nov 16:00</text>
<text transform="translate(900.3 850) scale(0.955 1)" font-size="10" fill="#000" stroke="#000" stroke-width="0.28" xml:space="preserve">16 Nov 08:00</text>
<text transform="translate(964.3 850) scale(0.955 1)" font-size="10" fill="#000" stroke="#000" stroke-width="0.28" xml:space="preserve">17 Nov 00:00</text>
<text transform="translate(1028.3 850) scale(0.955 1)" font-size="10" fill="#000" stroke="#000" stroke-width="0.28" xml:space="preserve">17 Nov 16:00</text>
<text transform="translate(1092.3 850) scale(0.955 1)" font-size="10" fill="#000" stroke="#000" stroke-width="0.28" xml:space="preserve">18 Nov 08:00</text>
<text transform="translate(1156.3 850) scale(0.955 1)" font-size="10" fill="#000" stroke="#000" stroke-width="0.28" xml:space="preserve">20 Nov 22:00</text>
<text transform="translate(1220.3 850) scale(0.955 1)" font-size="10" fill="#000" stroke="#000" stroke-width="0.28" xml:space="preserve">21 Nov 08:00</text>
<text transform="translate(1284.3 850) scale(0.955 1)" font-size="10" fill="#000" stroke="#000" stroke-width="0.28" xml:space="preserve">22 Nov 00:00</text>
<text transform="translate(1348.3 850) scale(0.955 1)" font-size="10" fill="#000" stroke="#000" stroke-width="0.28" xml:space="preserve">22 Nov 16:00</text>
<g shape-rendering="crispEdges">
<rect x="0" y="22" width="1689" height="1" fill="#f4f4f4"/>
<rect x="277" y="0" width="24" height="21" fill="url(#chk)"/>
<rect x="301" y="0" width="1" height="22" fill="#fff"/>
<rect x="276" y="21" width="26" height="1" fill="#fff"/>
<rect x="429" y="0" width="24" height="21" fill="url(#chk)"/>
<rect x="453" y="0" width="1" height="22" fill="#fff"/>
<rect x="428" y="21" width="26" height="1" fill="#fff"/>
<rect x="457" y="0" width="24" height="21" fill="url(#chk)"/>
<rect x="481" y="0" width="1" height="22" fill="#fff"/>
<rect x="456" y="21" width="26" height="1" fill="#fff"/>
<rect x="617" y="0" width="24" height="21" fill="url(#chk)"/>
<rect x="641" y="0" width="1" height="22" fill="#fff"/>
<rect x="616" y="21" width="26" height="1" fill="#fff"/>
<rect x="1063" y="0" width="24" height="21" fill="url(#chk)"/>
<rect x="1087" y="0" width="1" height="22" fill="#fff"/>
<rect x="1062" y="21" width="26" height="1" fill="#fff"/>
<rect x="238" y="0" width="1" height="23" fill="#a0a0a0"/>
<rect x="239" y="0" width="1" height="23" fill="#fbfbfb"/>
<rect x="606" y="0" width="1" height="23" fill="#a0a0a0"/>
<rect x="607" y="0" width="1" height="23" fill="#fbfbfb"/>
<rect x="912" y="0" width="1" height="23" fill="#a0a0a0"/>
<rect x="913" y="0" width="1" height="23" fill="#fbfbfb"/>
<rect x="1173" y="0" width="1" height="23" fill="#a0a0a0"/>
<rect x="1174" y="0" width="1" height="23" fill="#fbfbfb"/>
<rect x="2" y="0" width="1" height="21" fill="#a3a3a3"/>
<rect x="276" y="0" width="1" height="21" fill="#a3a3a3"/>
<rect x="333" y="0" width="1" height="21" fill="#a3a3a3"/>
<rect x="423" y="0" width="1" height="21" fill="#a3a3a3"/>
<rect x="428" y="0" width="1" height="21" fill="#a3a3a3"/>
<rect x="456" y="0" width="1" height="21" fill="#a3a3a3"/>
<rect x="485" y="0" width="1" height="21" fill="#a3a3a3"/>
<rect x="616" y="0" width="1" height="21" fill="#a3a3a3"/>
<rect x="673" y="0" width="1" height="21" fill="#a3a3a3"/>
<rect x="1062" y="0" width="1" height="21" fill="#a3a3a3"/>
<rect x="242" y="1" width="3" height="1" fill="#b4b4b4"/>
<rect x="242" y="3" width="3" height="1" fill="#b4b4b4"/>
<rect x="242" y="5" width="3" height="1" fill="#b4b4b4"/>
<rect x="242" y="7" width="3" height="1" fill="#b4b4b4"/>
<rect x="242" y="9" width="3" height="1" fill="#b4b4b4"/>
<rect x="242" y="11" width="3" height="1" fill="#b4b4b4"/>
<rect x="242" y="13" width="3" height="1" fill="#b4b4b4"/>
<rect x="242" y="15" width="3" height="1" fill="#b4b4b4"/>
<rect x="242" y="17" width="3" height="1" fill="#b4b4b4"/>
<rect x="242" y="19" width="3" height="1" fill="#b4b4b4"/>
<rect x="610" y="1" width="3" height="1" fill="#b4b4b4"/>
<rect x="610" y="3" width="3" height="1" fill="#b4b4b4"/>
<rect x="610" y="5" width="3" height="1" fill="#b4b4b4"/>
<rect x="610" y="7" width="3" height="1" fill="#b4b4b4"/>
<rect x="610" y="9" width="3" height="1" fill="#b4b4b4"/>
<rect x="610" y="11" width="3" height="1" fill="#b4b4b4"/>
<rect x="610" y="13" width="3" height="1" fill="#b4b4b4"/>
<rect x="610" y="15" width="3" height="1" fill="#b4b4b4"/>
<rect x="610" y="17" width="3" height="1" fill="#b4b4b4"/>
<rect x="610" y="19" width="3" height="1" fill="#b4b4b4"/>
<rect x="916" y="1" width="3" height="1" fill="#b4b4b4"/>
<rect x="916" y="3" width="3" height="1" fill="#b4b4b4"/>
<rect x="916" y="5" width="3" height="1" fill="#b4b4b4"/>
<rect x="916" y="7" width="3" height="1" fill="#b4b4b4"/>
<rect x="916" y="9" width="3" height="1" fill="#b4b4b4"/>
<rect x="916" y="11" width="3" height="1" fill="#b4b4b4"/>
<rect x="916" y="13" width="3" height="1" fill="#b4b4b4"/>
<rect x="916" y="15" width="3" height="1" fill="#b4b4b4"/>
<rect x="916" y="17" width="3" height="1" fill="#b4b4b4"/>
<rect x="916" y="19" width="3" height="1" fill="#b4b4b4"/>
</g>
<path d="M12.5 3.5h7.5l3.5 3.5v9.500h-11z" fill="#fdfdfd" stroke="#6e6e6e" stroke-width="1"/>
<path d="M20 3.5v3.5h3.5" fill="#e8e8e8" stroke="#8a8a8a" stroke-width="0.8"/>
<path d="M14 5.900h3" stroke="#707070" stroke-width="1.200" fill="none"/><path d="M14 9.400h5.700M14 11.600h4.700M14 13.500h2.200" stroke="#8c8c8c" stroke-width="0.800" fill="none"/>
<path d="M20 9.3h4v3.8h3.900v4h-3.900v3.800h-4v-3.800h-3.900v-4h3.900z" fill="#10d828" stroke="#0a7a0a" stroke-width="1"/>
<path d="M21.1 10.6h1.800v3.600h3.600v1.800h-3.600v3.600h-1.800v-3.600h-3.600v-1.800h3.600z" fill="#66ff70" opacity="0.75"/>
<text x="30.7" y="14.0" font-size="11.6" fill="#000" textLength="36.6" lengthAdjust="spacingAndGlyphs" xml:space="preserve">新订单</text>
<defs><linearGradient id="bk" x1="0" y1="0" x2="1" y2="1"><stop offset="0" stop-color="#e6ac16"/><stop offset="0.55" stop-color="#fbe04c"/><stop offset="1" stop-color="#e0a818"/></linearGradient><linearGradient id="bk2" x1="0" y1="0" x2="0" y2="1"><stop offset="0" stop-color="#f6d050"/><stop offset="1" stop-color="#b87408"/></linearGradient></defs>
<path d="M88.2 16.200L93.700 9.800L95 12.300L87 18.800Z" fill="#e9dca4" stroke="#96600a" stroke-width="0.800"/>
<path d="M79.300 12.700L88.200 16.300L87.100 18.900Q82 17.600 79.200 14.600Z" fill="url(#bk2)" stroke="#96600a" stroke-width="0.800"/>
<path d="M84.500 4.200L93.700 9.800L88.200 16.300L79.400 12.600Q82.800 9.200 84.500 4.200Z" fill="url(#bk)" stroke="#9a6508" stroke-width="0.900"/>
<defs><linearGradient id="cl" x1="0" y1="0" x2="0" y2="1"><stop offset="0" stop-color="#ffffff"/><stop offset="1" stop-color="#b4c2dc"/></linearGradient></defs>
<path d="M109 3.300H116.500L120 5.400H112.400Z" fill="#2c9cf8"/><path d="M109 3.300L112.400 5.400V13H109Z" fill="#0a8cf0"/><path d="M112.400 5.400H120V13H112.400Z" fill="#38acff"/>
<path d="M109 3.300L112.400 5.400H120M112.400 5.400V12" stroke="#d8eeff" stroke-width="0.600" fill="none"/><path d="M114 8h4.800" stroke="#fff" stroke-width="1.200"/>
<path d="M110 18.400a2.700 2.700 0 0 1 .2-5.400a3.500 3.500 0 0 1 6.500-1.400a2.900 2.900 0 0 1 3.900 1.800a2.500 2.500 0 0 1-.3 5z" fill="url(#cl)" stroke="#4c6aaa" stroke-width="1"/>
<path d="M142.95 10.9L142.95 18.80A7.9 7.9 0 0 0 146.82 17.78Z" fill="#3fa23f" opacity="0.8"/><path d="M142.95 10.9L146.73 17.84A7.9 7.9 0 0 0 149.65 15.09Z" fill="#3fa23f" opacity="0.68"/><path d="M142.95 10.9L149.59 15.19A7.9 7.9 0 0 0 150.84 11.38Z" fill="#3fa23f" opacity="0.55"/><path d="M142.95 10.9L150.83 11.49A7.9 7.9 0 0 0 150.10 7.55Z" fill="#3fa23f" opacity="0.42"/><path d="M142.95 10.9L150.15 7.65A7.9 7.9 0 0 0 147.63 4.54Z" fill="#3fa23f" opacity="0.3"/><path d="M142.95 10.9L147.72 4.60A7.9 7.9 0 0 0 144.02 3.07Z" fill="#3fa23f" opacity="0.18"/><path d="M142.95 10.9L144.13 3.09A7.9 7.9 0 0 0 140.14 3.51Z" fill="#3fa23f" opacity="0.08"/>
<g fill="none" stroke-width="0.9"><circle cx="142.95" cy="10.9" r="7.3" stroke="#6e90dc" stroke-dasharray="1.6 0.7" opacity="0.85"/><circle cx="142.95" cy="10.9" r="4.300" stroke="#4a74d4" opacity="0.9"/></g>
<circle cx="142.700" cy="10.600" r="1.900" fill="#2a52c8"/><path d="M143.400 11V18.900" stroke="#18a018" stroke-width="1.300"/>
<defs><linearGradient id="yb" x1="0" y1="0" x2="1" y2="1"><stop offset="0" stop-color="#f4c828"/><stop offset="0.5" stop-color="#fdea70"/><stop offset="1" stop-color="#f0c020"/></linearGradient><radialGradient id="rd" cx="0.5" cy="0.45" r="0.6"><stop offset="0.5" stop-color="#ea2c0a"/><stop offset="1" stop-color="#b01400"/></radialGradient></defs>
<path d="M162.400 10.200L177.600 9.600L174 15L170.300 18.900L166.500 15.800Z" fill="url(#yb)" stroke="#cfa010" stroke-width="0.800"/>
<ellipse cx="170" cy="7.600" rx="7.700" ry="2.500" fill="#62b2e6" stroke="#2a86b4" stroke-width="0.800"/><ellipse cx="170" cy="5.600" rx="3.600" ry="2.700" fill="#7cc6f2" stroke="#3a94c4" stroke-width="0.600"/><path d="M164 8.300Q170 10.300 176 8.300" stroke="#2a86b4" stroke-width="0.700" fill="none"/>
<circle cx="174.400" cy="14.700" r="4.100" fill="url(#rd)"/><rect x="172.900" y="13.200" width="3" height="3" fill="#fff"/>
<text x="183.5" y="14.0" font-size="11.6" fill="#000" textLength="47.6" lengthAdjust="spacingAndGlyphs" xml:space="preserve">自动交易</text>
<g stroke="#505050" stroke-width="1" fill="#505050"><path d="M256.5 5.5V19M254.0 16.5H267.0" fill="none"/><path d="M256.5 4.3l2 3h-4zM268.5 16.5l-3 -2v4z" stroke="none"/></g>
<path d="M262.5 6.5V14.8M262.5 7.3H265.2M259.8 13.7H262.5" stroke="#12a012" stroke-width="1.3" fill="none"/>
<g stroke="#505050" stroke-width="1" fill="#505050"><path d="M284.5 5.5V19M282.0 16.5H295.0" fill="none"/><path d="M284.5 4.3l2 3h-4zM296.5 16.5l-3 -2v4z" stroke="none"/></g>
<path d="M290.5 3.2V15" stroke="#0b8a0b" stroke-width="1.1"/><rect x="288.4" y="5.4" width="4.3" height="7.4" fill="#4be64b" stroke="#0b8a0b" stroke-width="0.9"/>
<g stroke="#505050" stroke-width="1" fill="#505050"><path d="M312.5 5.5V19M310.0 16.5H323.0" fill="none"/><path d="M312.5 4.3l2 3h-4zM324.5 16.5l-3 -2v4z" stroke="none"/></g>
<path d="M311.3 13.6C314 11.5 315.5 8 317.6 8.2S320.5 11.6 322.9 12.2" stroke="#22a022" stroke-width="1.1" fill="none"/>
<path d="M351.9 12.8L356.9 17.6" stroke="#9a7400" stroke-width="3.4" stroke-linecap="round"/><path d="M351.9 12.8L356.9 17.6" stroke="#e6b800" stroke-width="2" stroke-linecap="round"/>
<circle cx="347.9" cy="8.9" r="5.3" fill="#d6ecfa" stroke="#3a78c8" stroke-width="1.3"/>
<path d="M344.9 8.9h6M347.9 5.9v6" stroke="#3a86b6" stroke-width="1.7"/>
<path d="M380 12.8L385 17.6" stroke="#9a7400" stroke-width="3.4" stroke-linecap="round"/><path d="M380 12.8L385 17.6" stroke="#e6b800" stroke-width="2" stroke-linecap="round"/>
<circle cx="376" cy="8.9" r="5.3" fill="#d6ecfa" stroke="#3a78c8" stroke-width="1.3"/>
<path d="M373 8.9h6" stroke="#3a86b6" stroke-width="1.7"/>
<rect x="398" y="3" width="8" height="8" rx="1" fill="#46a414"/>
<rect x="399.2" y="4.2" width="0.9" height="0.9" fill="#fff" opacity="0.9"/>
<rect x="399" y="6.2" width="6" height="3.7" fill="#fff"/>
<rect x="400" y="7.3" width="4" height="0.9" fill="#a6dc8e"/>
<rect x="400" y="9.1" width="4" height="0.9" fill="#46a414"/>
<rect x="406" y="3" width="8" height="8" rx="1" fill="#1f5ad6"/>
<rect x="407.2" y="4.2" width="0.9" height="0.9" fill="#fff" opacity="0.9"/>
<rect x="407" y="6.2" width="6" height="3.7" fill="#fff"/>
<rect x="408" y="7.3" width="4" height="0.9" fill="#8fb0f2"/>
<rect x="408" y="9.1" width="4" height="0.9" fill="#1f5ad6"/>
<rect x="398" y="11" width="8" height="8" rx="1" fill="#1f5ad6"/>
<rect x="399.2" y="12.2" width="0.9" height="0.9" fill="#fff" opacity="0.9"/>
<rect x="399" y="14.2" width="6" height="3.7" fill="#fff"/>
<rect x="400" y="15.3" width="4" height="0.9" fill="#8fb0f2"/>
<rect x="400" y="17.1" width="4" height="0.9" fill="#1f5ad6"/>
<rect x="406" y="11" width="8" height="8" rx="1" fill="#46a414"/>
<rect x="407.2" y="12.2" width="0.9" height="0.9" fill="#fff" opacity="0.9"/>
<rect x="407" y="14.2" width="6" height="3.7" fill="#fff"/>
<rect x="408" y="15.3" width="4" height="0.9" fill="#a6dc8e"/>
<rect x="408" y="17.1" width="4" height="0.9" fill="#46a414"/>
<g stroke="#505050" stroke-width="1" fill="#505050"><path d="M436.5 5.5V19M434.0 16.5H447.0" fill="none"/><path d="M436.5 4.3l2 3h-4zM448.5 16.5l-3 -2v4z" stroke="none"/></g>
<path d="M441.2 7.1V13.9L445.3 10.5Z" fill="#66e666" stroke="#109010" stroke-width="1"/>
<g stroke="#505050" stroke-width="1" fill="#505050"><path d="M464.5 5.5V19M462.0 16.5H475.0" fill="none"/><path d="M464.5 4.3l2 3h-4zM476.5 16.5l-3 -2v4z" stroke="none"/></g>
<path d="M470.5 5V15" stroke="#1a70a0" stroke-width="1.3"/><path d="M472 10.5H476.2" stroke="#e04800" stroke-width="1.2"/><path d="M471.2 10.5L474.2 8.2V12.8Z" fill="#e04800"/>
<path d="M495.5 3.5h7.5l3.5 3.5v9.500h-11z" fill="#fdfdfd" stroke="#6e6e6e" stroke-width="1"/>
<path d="M503 3.5v3.5h3.5" fill="#e8e8e8" stroke="#8a8a8a" stroke-width="0.8"/>
<path d="M500.800 6.200q-1.800-.2-1.800 1.600v5.700M497.600 9.600h3" stroke="#4a4a4a" stroke-width="0.900" fill="none"/>
<path d="M503 9.3h4v3.8h3.900v4h-3.900v3.800h-4v-3.800h-3.900v-4h3.900z" fill="#10d828" stroke="#0a7a0a" stroke-width="1"/>
<path d="M504.1 10.6h1.800v3.600h3.600v1.800h-3.600v3.600h-1.800v-3.600h-3.600v-1.800h3.600z" fill="#66ff70" opacity="0.75"/>
<path d="M517.2 10h5.6l-2.8 3.2z" fill="#000"/>
<defs><linearGradient id="ck" x1="0" y1="0" x2="1" y2="1"><stop offset="0" stop-color="#3d8cf0"/><stop offset="1" stop-color="#0b46b8"/></linearGradient></defs>
<circle cx="541.2" cy="11" r="6.4" fill="#fbfbfb" stroke="url(#ck)" stroke-width="2.9"/>
<g fill="#b8b8c0"><circle cx="541.2" cy="6.9" r="0.5"/><circle cx="545.3" cy="11" r="0.5"/><circle cx="541.2" cy="15.1" r="0.5"/><circle cx="537.1" cy="11" r="0.5"/><circle cx="543.3" cy="7.5" r="0.4"/><circle cx="544.7" cy="8.9" r="0.4"/><circle cx="539.1" cy="7.5" r="0.4"/><circle cx="537.7" cy="8.9" r="0.4"/><circle cx="543.3" cy="14.5" r="0.4"/><circle cx="544.7" cy="13.1" r="0.4"/><circle cx="539.1" cy="14.5" r="0.4"/><circle cx="537.7" cy="13.1" r="0.4"/></g>
<path d="M541.2 11.3V7.8M541.2 11.3L543.8 11.8" stroke="#333" stroke-width="1.1" fill="none"/>
<path d="M555.7 10h5.6l-2.8 3.2z" fill="#000"/>
<rect x="572.5" y="4.5" width="15" height="13" fill="#fff" stroke="#3a72c4" stroke-width="1"/><rect x="573" y="5" width="14" height="2.4" fill="#5a94dc"/><path d="M573 11.7h14" stroke="#3a72c4" stroke-width="1"/>
<path d="M574.5 10l2.500-1.300l2 .8l2-1.500l2 1l2.500-1.300" stroke="#b02000" stroke-width="1" fill="none"/><path d="M574.5 15.600l2.500-1.400l2 .9l2.500-2l2 1.900l2 .6" stroke="#10963a" stroke-width="1" fill="none"/>
<path d="M594.8000000000001 10h5.6l-2.8 3.2z" fill="#000"/>
<path d="M624.2 3.900V15L626.900 12.700L629.200 17.900L631 17.100L628.700 12L632.200 11.600Z" fill="#404040"/>
<path d="M649 11.500H655.300M658 11.500H664.300M656.500 4V10M656.500 13V19" stroke="#404040" stroke-width="1" fill="none" shape-rendering="crispEdges"/><rect x="656" y="11" width="1" height="1" fill="#808080"/>
<path d="M690.500 5V18M713 11.500H725.200" stroke="#404040" stroke-width="1.100" fill="none" shape-rendering="crispEdges"/><path d="M741 17.900L753 6" stroke="#404040" stroke-width="1.100"/>
<path d="M767 13.200L776 4.800M768.300 17.400L780.300 5.800M772 18L781 9.800" stroke="#404040" stroke-width="1" fill="none"/><path d="M769.500 12v4M772.500 9v5M775.500 6.500v5M778.300 4v5" stroke="#404040" stroke-width="0.800" fill="none"/>
<text x="777.8" y="19.9" font-size="7" fill="#333" stroke="#333" stroke-width="0.28" font-weight="bold" xml:space="preserve">E</text>
<path d="M796 4.600H809.500M796 7.500H809.500M796 11.500H809.500M796 15.600H805" stroke="#404040" stroke-width="1" stroke-dasharray="1 1" fill="none"/>
<text x="805.8" y="19.9" font-size="7" fill="#333" stroke="#333" stroke-width="0.28" font-weight="bold" xml:space="preserve">F</text>
<text transform="translate(830.6 16) scale(0.93 1)" font-size="13" fill="#505050" stroke="#505050" stroke-width="0.5" text-anchor="middle" xml:space="preserve">A</text>
<g shape-rendering="crispEdges">
<rect x="853" y="5" width="1" height="1" fill="#606060"/>
<rect x="853" y="17" width="1" height="1" fill="#606060"/>
<rect x="853" y="5" width="1" height="1" fill="#606060"/>
<rect x="865" y="5" width="1" height="1" fill="#606060"/>
<rect x="855" y="5" width="1" height="1" fill="#606060"/>
<rect x="855" y="17" width="1" height="1" fill="#606060"/>
<rect x="853" y="7" width="1" height="1" fill="#606060"/>
<rect x="865" y="7" width="1" height="1" fill="#606060"/>
<rect x="857" y="5" width="1" height="1" fill="#606060"/>
<rect x="857" y="17" width="1" height="1" fill="#606060"/>
<rect x="853" y="9" width="1" height="1" fill="#606060"/>
<rect x="865" y="9" width="1" height="1" fill="#606060"/>
<rect x="859" y="5" width="1" height="1" fill="#606060"/>
<rect x="859" y="17" width="1" height="1" fill="#606060"/>
<rect x="853" y="11" width="1" height="1" fill="#606060"/>
<rect x="865" y="11" width="1" height="1" fill="#606060"/>
<rect x="861" y="5" width="1" height="1" fill="#606060"/>
<rect x="861" y="17" width="1" height="1" fill="#606060"/>
<rect x="853" y="13" width="1" height="1" fill="#606060"/>
<rect x="865" y="13" width="1" height="1" fill="#606060"/>
<rect x="863" y="5" width="1" height="1" fill="#606060"/>
<rect x="863" y="17" width="1" height="1" fill="#606060"/>
<rect x="853" y="15" width="1" height="1" fill="#606060"/>
<rect x="865" y="15" width="1" height="1" fill="#606060"/>
<rect x="865" y="5" width="1" height="1" fill="#606060"/>
<rect x="865" y="17" width="1" height="1" fill="#606060"/>
<rect x="853" y="17" width="1" height="1" fill="#606060"/>
<rect x="865" y="17" width="1" height="1" fill="#606060"/>
<rect x="852" y="4" width="2" height="2" fill="#505050"/>
</g>
<text transform="translate(859.3 15.7) scale(1.12 1)" font-size="10.6" fill="#505050" stroke="#505050" stroke-width="0.5" text-anchor="middle" xml:space="preserve">T</text>
<path d="M880.300 8.600L883.600 5L886.900 8.600L883.600 9.900ZM887.400 14.200L890.700 18.200L894 14.200L890.700 12.900Z" fill="#404040"/><path d="M882.300 12.300L884.600 14.600L888.700 9.700" stroke="#404040" stroke-width="1.300" fill="none"/>
<path d="M900.7 10h5.6l-2.8 3.2z" fill="#000"/>
<text transform="translate(933.8 15) scale(1.0 1)" font-size="10" fill="#404040" stroke="#404040" stroke-width="0.1" text-anchor="middle" xml:space="preserve">M1</text>
<text transform="translate(962 15) scale(1.0 1)" font-size="10" fill="#404040" stroke="#404040" stroke-width="0.1" text-anchor="middle" xml:space="preserve">M5</text>
<text transform="translate(990.7 15) scale(1.0 1)" font-size="10" fill="#404040" stroke="#404040" stroke-width="0.1" text-anchor="middle" xml:space="preserve">M15</text>
<text transform="translate(1018.4 15) scale(1.0 1)" font-size="10" fill="#404040" stroke="#404040" stroke-width="0.1" text-anchor="middle" xml:space="preserve">M30</text>
<text transform="translate(1046.3 15) scale(1.0 1)" font-size="10" fill="#404040" stroke="#404040" stroke-width="0.1" text-anchor="middle" xml:space="preserve">H1</text>
<text transform="translate(1073.5 15) scale(1.0 1)" font-size="10" fill="#404040" stroke="#404040" stroke-width="0.1" text-anchor="middle" xml:space="preserve">H4</text>
<text transform="translate(1102.4 15) scale(1.0 1)" font-size="10" fill="#404040" stroke="#404040" stroke-width="0.1" text-anchor="middle" xml:space="preserve">D1</text>
<text transform="translate(1131 15) scale(1.0 1)" font-size="10" fill="#404040" stroke="#404040" stroke-width="0.1" text-anchor="middle" xml:space="preserve">W1</text>
<text transform="translate(1157.9 15) scale(1.0 1)" font-size="10" fill="#404040" stroke="#404040" stroke-width="0.1" text-anchor="middle" xml:space="preserve">MN</text>
<path d="M1640.800 11.700L1636.200 16" stroke="#2457d0" stroke-width="2.200" stroke-linecap="round"/><circle cx="1643.600" cy="8.400" r="3.900" fill="none" stroke="#2a5ad6" stroke-width="1.200"/>
<path d="M1665.300 8.500c-3 0-5.300 2-5.300 4.600s2 4.200 3.600 4.500l-.5 2l2.300-1.900c3.500 0 5.500-2 5.500-4.600s-2.500-4.600-5.600-4.600z" fill="#e6e7ee" stroke="#b4b6c2" stroke-width="0.800"/>
<defs><linearGradient id="bd" x1="0" y1="0" x2="0" y2="1"><stop offset="0" stop-color="#e8502c"/><stop offset="1" stop-color="#c40f0f"/></linearGradient></defs>
<circle cx="1674.600" cy="8.400" r="8.300" fill="url(#bd)"/>
<text x="1674.5" y="12.7" font-size="12" fill="#fff" text-anchor="middle" xml:space="preserve">1</text>
</svg></body></html>
